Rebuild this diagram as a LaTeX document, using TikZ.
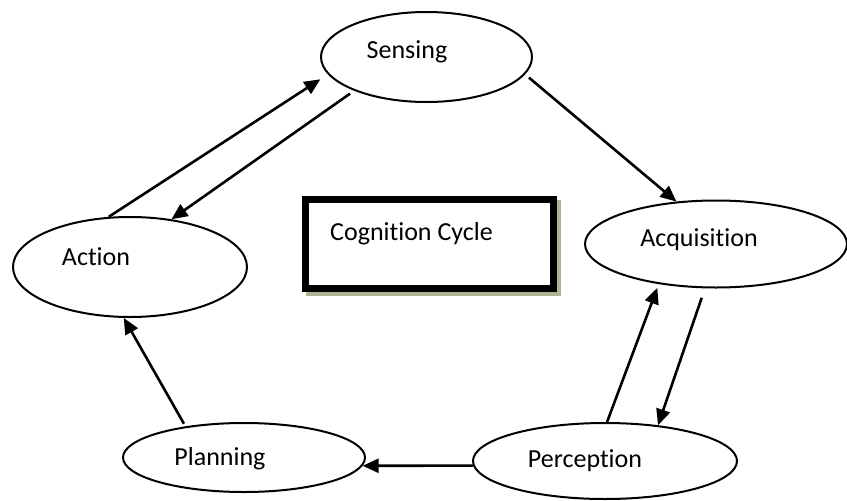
\documentclass[tikz,border=0pt]{standalone}
\usepackage{fontspec}
\setmainfont{Carlito}[Ligatures={NoCommon}]
\usetikzlibrary{arrows.meta,shapes.geometric}
\definecolor{shadowc}{HTML}{AEB595}
\begin{document}
\begin{tikzpicture}[x=1pt,y=-1pt,
  stage/.style={draw, ellipse, line width=2pt, inner sep=0pt},
  lbl/.style={anchor=base, inner sep=0pt, font=\fontsize{26}{31}\selectfont},
  frame/.style={draw, line width=7pt, inner sep=0pt, fill=white},
  flow/.style={line width=2.6pt, -{Triangle[length=16pt,width=14pt]}},
]
\useasboundingbox (0,0) rectangle (847,501);

% the five stages of the cycle
\node[stage, minimum width=211pt, minimum height=90pt] (sens) at (426.5,57) {};
\node[lbl] (sensT) at (407,58) {Sensing};
\node[stage, minimum width=262pt, minimum height=87pt] (acq) at (716,244) {};
\node[lbl] (acqT) at (699,246.5) {Acquisition};
\node[stage, minimum width=234pt, minimum height=100pt] (act) at (130,267) {};
\node[lbl] (actT) at (96,265) {Action};
\node[stage, minimum width=264pt, minimum height=76pt] (perc) at (605,461) {};
\node[lbl] (percT) at (585,467) {Perception};
\node[stage, minimum width=242pt, minimum height=69pt] (plan) at (244,457.5) {};
\node[lbl] (planT) at (220,465) {Planning};

% title box with its shadow
\fill[shadowc] (306,200) rectangle (561,296);
\node[frame, minimum width=248pt, minimum height=89pt] (cog) at (429.5,244) {};
\node[lbl, anchor=base west] (cogT) at (330,240) {Cognition Cycle};

% transitions
\draw[flow, shorten <=5pt] (sens.-10) -- (acq.133);
\draw[flow, shorten <=10pt] (acq.256) -- (perc.34);
\draw[flow, shorten >=4pt] (perc.87) -- (acq.215);
\draw[flow] (perc.182) -- (plan.-4);
\draw[flow, shorten <=3pt] (plan.152) -- (act.263);
\draw[flow, shorten >=9pt] (act.113.7) -- (sens.190);
\draw[flow, shorten <=5pt] (sens.205) -- (act.49);
\end{tikzpicture}
\end{document}
